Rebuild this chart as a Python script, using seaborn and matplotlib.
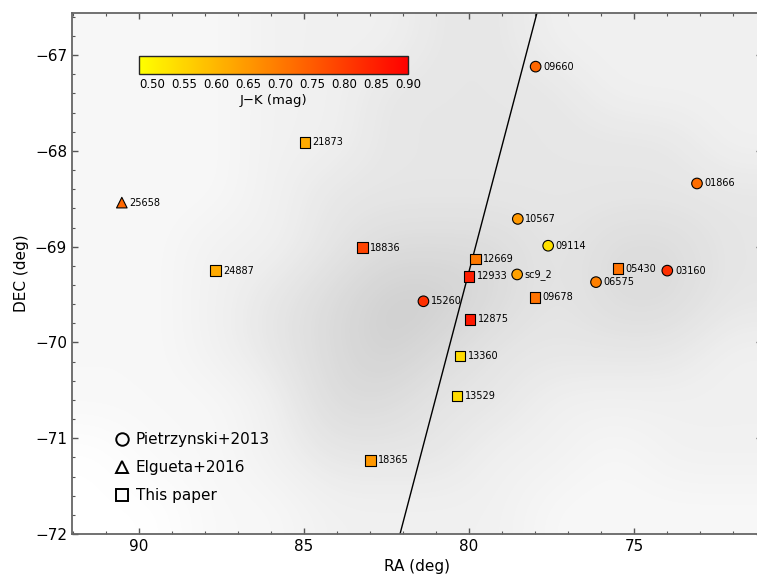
import matplotlib
matplotlib.use('Agg')
import matplotlib.pyplot as plt
from matplotlib.cm import ScalarMappable
from matplotlib.colors import Normalize
from matplotlib.lines import Line2D
from matplotlib.ticker import MultipleLocator
import pandas as pd
import seaborn as sns

# stars: id, RA, DEC, J-K colour, source catalogue
star_names = ['09660', '01866', '10567', '09114', 'sc9_2', '06575', '03160', '15260',
              '21873', '18836', '24887', '12669', '12933', '09678', '05430', '12875',
              '13360', '13529', '18365', '25658']
star_ra = [77.98, 73.09, 78.52, 77.60, 78.54, 76.15, 73.99, 81.38,
           84.97, 83.23, 87.69, 79.80, 80.00, 78.00, 75.48, 79.97,
           80.27, 80.36, 82.98, 90.52]
star_dec = [-67.12, -68.34, -68.71, -68.99, -69.29, -69.37, -69.25, -69.57,
            -67.91, -69.01, -69.25, -69.13, -69.31, -69.53, -69.23, -69.76,
            -70.14, -70.56, -71.23, -68.54]
star_jk = [0.73, 0.72, 0.65, 0.53, 0.635, 0.69, 0.82, 0.82,
           0.62, 0.79, 0.62, 0.70, 0.85, 0.71, 0.71, 0.86,
           0.54, 0.54, 0.65, 0.73]
star_source = ['Pietrzynski+2013'] * 8 + ['This paper'] * 11 + ['Elgueta+2016']

source_order = ['Pietrzynski+2013', 'Elgueta+2016', 'This paper']
source_markers = {'Pietrzynski+2013': 'o', 'Elgueta+2016': '^', 'This paper': 's'}

# line of nodes
line_ra = [82.09, 77.94]
line_dec = [-72.0, -66.56]

# rough surface density of the background field (rows top->bottom, cols east->west)
field_density = [
    [1, 1, 1, 2, 2, 2, 3, 3, 2, 2, 2, 2],
    [1, 1, 1, 2, 2, 3, 3, 3, 3, 2, 2, 2],
    [1, 1, 1, 2, 2, 3, 3, 3, 3, 3, 3, 2],
    [1, 1, 1, 2, 3, 3, 3, 3, 3, 3, 3, 3],
    [1, 1, 2, 2, 3, 4, 4, 4, 3, 4, 4, 3],
    [1, 1, 2, 3, 4, 5, 5, 4, 3, 4, 4, 3],
    [1, 1, 2, 3, 4, 5, 4, 3, 3, 3, 3, 2],
    [1, 1, 1, 2, 4, 4, 3, 3, 2, 2, 2, 2],
    [0, 1, 1, 2, 3, 3, 3, 2, 2, 1, 2, 2],
    [0, 0, 1, 1, 2, 2, 2, 2, 1, 1, 1, 1],
]

colorbar_ticks = [0.50, 0.55, 0.60, 0.65, 0.70, 0.75, 0.80, 0.85, 0.90]

df = pd.DataFrame({'name': star_names, 'ra': star_ra, 'dec': star_dec,
                   'jk': star_jk, 'source': star_source})

sns.set_style('ticks')
plt.rcParams['font.family'] = ['DejaVu Sans']
plt.rcParams['text.color'] = 'black'
plt.rcParams['axes.labelcolor'] = 'black'
plt.rcParams['xtick.labelcolor'] = 'black'
plt.rcParams['ytick.labelcolor'] = 'black'

norm = Normalize(vmin=0.48, vmax=0.90)
cmap = plt.get_cmap('autumn_r')

fig = plt.figure(figsize=(7.57, 5.75), dpi=100)
ax = fig.add_axes([72 / 757, 1 - 534 / 575, (762 - 72) / 757, (534 - 13) / 575])

ax.imshow(field_density, extent=[92.03, 71.27, -72.0, -66.56], origin='upper',
          cmap='Greys', vmin=0, vmax=17, interpolation='bicubic', aspect='auto', zorder=0)

ax.plot(line_ra, line_dec, color='black', linewidth=1.0, zorder=2)

sns.scatterplot(data=df, x='ra', y='dec', hue='jk', palette=cmap, hue_norm=norm,
                style='source', markers=source_markers, style_order=source_order,
                s=58, edgecolor='black', linewidth=0.8, legend=False, ax=ax, zorder=3)

for name, ra, dec in zip(star_names, star_ra, star_dec):
    ax.annotate(name, (ra, dec), xytext=(5.5, 0), textcoords='offset points',
                fontsize=7, color='black', va='center', ha='left', zorder=4)

ax.set_xlim(92.03, 71.12)
ax.set_ylim(-72.0, -66.56)
ax.xaxis.set_major_locator(MultipleLocator(5))
ax.xaxis.set_minor_locator(MultipleLocator(1))
ax.yaxis.set_major_locator(MultipleLocator(1))
ax.yaxis.set_minor_locator(MultipleLocator(0.2))
ax.tick_params(which='both', direction='in', top=True, right=True, color='#555555',
               labelsize=11, labelcolor='black')
ax.tick_params(which='major', length=4, width=1)
ax.tick_params(which='minor', length=2.5, width=0.8)
for spine in ax.spines.values():
    spine.set_color('#666666')
    spine.set_linewidth(1.3)
ax.set_xlabel('RA (deg)', fontsize=11, labelpad=4)
ax.set_ylabel('DEC (deg)', fontsize=11, labelpad=4)

handles = [Line2D([], [], linestyle='none', marker=source_markers[src], markersize=9,
                  markerfacecolor='none', markeredgecolor='black', markeredgewidth=1.4)
           for src in source_order]
ax.legend(handles, source_order, loc='lower left', bbox_to_anchor=(0.037, 0.03),
          frameon=False, fontsize=11, labelspacing=0.85, handletextpad=0.3,
          handlelength=1.2, borderpad=0.5)

cax = fig.add_axes([139.3 / 757, 1 - 74.3 / 575, 269 / 757, 18.6 / 575])
cb = fig.colorbar(ScalarMappable(norm=norm, cmap=cmap), cax=cax,
                  orientation='horizontal', ticks=colorbar_ticks)
cb.ax.set_xticklabels([f'{t:.2f}' for t in colorbar_ticks])
cb.ax.tick_params(direction='in', length=3, labelsize=8.5, pad=3, labelcolor='black')
cb.outline.set_linewidth(1.0)
cb.set_label('J\u2212K (mag)', fontsize=9.5, labelpad=2)

fig.savefig('out.png', dpi=100)
